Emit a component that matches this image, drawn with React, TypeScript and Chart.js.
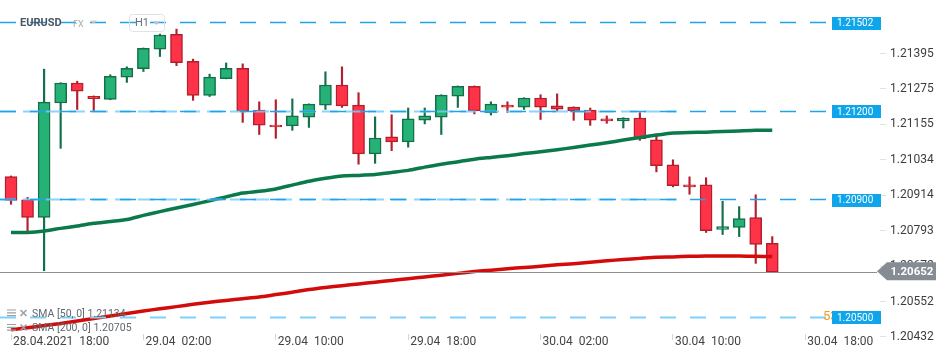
import React, { useEffect, useRef } from 'react';
import { Chart, registerables } from 'chart.js';

Chart.register(...registerables);
Chart.defaults.font.family = "Roboto, 'DejaVu Sans', sans-serif";

// ---------- data ----------
const symbolName = 'EURUSD';
const marketLabel = 'FX';
const intervalLabel = 'H1';

const opens = [1.20977, 1.20898, 1.20838, 1.21227, 1.21295, 1.21250, 1.21239, 1.21315, 1.21344, 1.21410,
  1.21460, 1.21369, 1.21253, 1.21310, 1.21345, 1.21203, 1.21152, 1.21149, 1.21179, 1.21220,
  1.21288, 1.21220, 1.21054, 1.21112, 1.21095, 1.21169, 1.21179, 1.21250, 1.21284, 1.21193,
  1.21220, 1.21213, 1.21244, 1.21217, 1.21213, 1.21203, 1.21173, 1.21166, 1.21176, 1.21102,
  1.21017, 1.20949, 1.20949, 1.20797, 1.20804, 1.20838, 1.20750];
const highs = [1.20979, 1.20906, 1.21342, 1.21296, 1.21301, 1.21251, 1.21323, 1.21350, 1.21414, 1.21461,
  1.21478, 1.21376, 1.21325, 1.21363, 1.21360, 1.21231, 1.21238, 1.21241, 1.21224, 1.21333,
  1.21350, 1.21262, 1.21180, 1.21187, 1.21210, 1.21210, 1.21255, 1.21285, 1.21285, 1.21231,
  1.21231, 1.21245, 1.21255, 1.21258, 1.21214, 1.21210, 1.21183, 1.21177, 1.21194, 1.21122,
  1.21034, 1.20976, 1.20973, 1.20893, 1.20875, 1.20915, 1.20773];
const lows = [1.20883, 1.20788, 1.20657, 1.21073, 1.21205, 1.21198, 1.21238, 1.21297, 1.21334, 1.21385,
  1.21354, 1.21236, 1.21249, 1.21309, 1.21161, 1.21120, 1.21107, 1.21134, 1.21144, 1.21205,
  1.21212, 1.21019, 1.21022, 1.21065, 1.21077, 1.21156, 1.21120, 1.21212, 1.21190, 1.21186,
  1.21195, 1.21205, 1.21171, 1.21198, 1.21168, 1.21151, 1.21158, 1.21142, 1.21100, 1.20993,
  1.20942, 1.20917, 1.20787, 1.20780, 1.20773, 1.20682, 1.20651];
const closes = [1.20896, 1.20838, 1.21230, 1.21295, 1.21267, 1.21242, 1.21318, 1.21345, 1.21413, 1.21458,
  1.21364, 1.21253, 1.21315, 1.21345, 1.21199, 1.21152, 1.21146, 1.21183, 1.21223, 1.21288,
  1.21217, 1.21054, 1.21108, 1.21095, 1.21173, 1.21183, 1.21254, 1.21284, 1.21200, 1.21223,
  1.21213, 1.21244, 1.21213, 1.21206, 1.21200, 1.21169, 1.21166, 1.21176, 1.21105, 1.21014,
  1.20946, 1.20942, 1.20793, 1.20807, 1.20834, 1.20746, 1.20652];

const sma50 = [1.20787, 1.20787, 1.20792, 1.20801, 1.20809, 1.20818, 1.20824, 1.20831, 1.20845, 1.20858,
  1.20870, 1.20882, 1.20895, 1.20908, 1.20921, 1.20927, 1.20935, 1.20948, 1.20961, 1.20971,
  1.20979, 1.20981, 1.20984, 1.20991, 1.20998, 1.21009, 1.21019, 1.21027, 1.21036, 1.21042,
  1.21048, 1.21055, 1.21061, 1.21068, 1.21076, 1.21084, 1.21092, 1.21101, 1.21110, 1.21118,
  1.21125, 1.21127, 1.21128, 1.21130, 1.21132, 1.21134, 1.21134];
const sma200 = [1.20456, 1.20463, 1.20471, 1.20478, 1.20486, 1.20495, 1.20503, 1.20512, 1.20520, 1.20528,
  1.20535, 1.20543, 1.20550, 1.20556, 1.20562, 1.20568, 1.20576, 1.20584, 1.20593, 1.20600,
  1.20606, 1.20612, 1.20618, 1.20624, 1.20630, 1.20636, 1.20642, 1.20648, 1.20654, 1.20659,
  1.20664, 1.20668, 1.20672, 1.20677, 1.20681, 1.20686, 1.20691, 1.20695, 1.20699, 1.20703,
  1.20704, 1.20706, 1.20707, 1.20707, 1.20707, 1.20706, 1.20705];

const levelValues = [1.21502, 1.21200, 1.20900, 1.20500];
const lastPrice = 1.20652;
const yTickValues = [1.21395, 1.21275, 1.21155, 1.21034, 1.20914, 1.20793, 1.20672, 1.20552, 1.20432];
const xTickIndices = [0, 8, 16, 24, 32, 40, 48];
const xTickLabels = ['28.04.2021  18:00', '29.04  02:00', '29.04  10:00', '29.04  18:00', '30.04  02:00', '30.04  10:00', '30.04  18:00'];
const legendLabels = ['SMA [50, 0] 1.21134', 'SMA [200, 0] 1.20705'];
const orangeTag = '53';

// ---------- styles ----------
const UP_FILL = '#26b276';
const UP_LINE = '#13704a';
const DOWN_FILL = '#ff3347';
const DOWN_LINE = '#b41f2d';

const overlayPlugin = {
  id: 'overlay',
  afterDraw(chart: any) {
    const ctx = chart.ctx as CanvasRenderingContext2D;
    const ys = chart.scales.y;
    const boxLeft = 832;
    const boxW = 49;
    const boxH = 13;
    ctx.save();

    const dashLine = (py: number, x0: number, x1: number, color: string, w: number, dash: number[], off: number) => {
      ctx.beginPath();
      ctx.setLineDash(dash);
      ctx.lineDashOffset = off;
      ctx.strokeStyle = color;
      ctx.lineWidth = w;
      ctx.moveTo(x0, py);
      ctx.lineTo(x1, py);
      ctx.stroke();
    };

    // level lines
    levelValues.forEach((lv, i) => {
      const py = Math.round(ys.getPixelForValue(lv)) + 0.5;
      if (i === levelValues.length - 1) {
        dashLine(py, 0, boxLeft, '#80d0f8', 2, [16, 14], 0);
      } else {
        if (i > 0) dashLine(py, 0, 677, 'rgba(120,205,248,0.85)', 2, [16, 7], 0);
        dashLine(py, 0, boxLeft, '#1fa4ea', 1.3, [16, 14], 0);
      }
    });
    ctx.setLineDash([]);

    // current price line
    const pp = Math.round(ys.getPixelForValue(lastPrice)) + 0.5;
    ctx.strokeStyle = '#8a9197';
    ctx.lineWidth = 1;
    ctx.beginPath();
    ctx.moveTo(0, pp);
    ctx.lineTo(877, pp);
    ctx.stroke();

    // orange tag partially hidden
    const lastLvlY = ys.getPixelForValue(levelValues[levelValues.length - 1]);
    ctx.fillStyle = '#f39a1f';
    ctx.font = '13px Roboto';
    ctx.textBaseline = 'middle';
    ctx.textAlign = 'left';
    ctx.fillText(orangeTag, 823, lastLvlY);

    // level boxes
    levelValues.forEach((lv) => {
      const py = ys.getPixelForValue(lv);
      ctx.fillStyle = '#0fa5ea';
      ctx.fillRect(boxLeft, Math.round(py - boxH / 2) + 1, boxW, boxH);
      ctx.fillStyle = '#ffffff';
      ctx.font = '10px Roboto';
      ctx.textBaseline = 'middle';
      ctx.fillText(lv.toFixed(5), boxLeft + 5, Math.round(py) + 1.5);
    });

    // price tag
    const pyc = ys.getPixelForValue(lastPrice) - 1;
    ctx.fillStyle = '#858c93';
    ctx.beginPath();
    ctx.moveTo(877, pyc);
    ctx.lineTo(887, pyc - 9);
    ctx.lineTo(936, pyc - 9);
    ctx.lineTo(936, pyc + 9);
    ctx.lineTo(887, pyc + 9);
    ctx.closePath();
    ctx.fill();
    ctx.fillStyle = '#ffffff';
    ctx.font = 'bold 11.5px Roboto';
    ctx.fillText(lastPrice.toFixed(5), 890.5, pyc + 0.5);

    // header
    ctx.fillStyle = '#4b5661';
    ctx.font = 'bold 11px Roboto';
    ctx.fillText(symbolName, 20, 23.5);
    ctx.fillStyle = '#a3abb3';
    ctx.font = '9px Roboto';
    ctx.fillText(marketLabel, 73, 24.5);
    ctx.fillStyle = '#c5cbd1';
    ctx.beginPath();
    ctx.moveTo(90.5, 20.5);
    ctx.lineTo(97, 20.5);
    ctx.lineTo(93.75, 24);
    ctx.closePath();
    ctx.fill();
    ctx.strokeStyle = '#dfe3e7';
    ctx.lineWidth = 1;
    ctx.beginPath();
    (ctx as any).roundRect(129.5, 14.5, 35, 17, 3);
    ctx.stroke();
    ctx.fillStyle = '#66707a';
    ctx.font = '11px Roboto';
    ctx.fillText(intervalLabel, 135, 23.5);
    ctx.fillStyle = '#b9c0c6';
    ctx.beginPath();
    ctx.moveTo(153, 21.5);
    ctx.lineTo(160, 21.5);
    ctx.lineTo(156.5, 25);
    ctx.closePath();
    ctx.fill();

    // indicator legend
    legendLabels.forEach((t, i) => {
      const cy = 314 + i * 14.5;
      ctx.strokeStyle = '#9aa0a6';
      ctx.lineWidth = 1.2;
      ctx.beginPath();
      for (let k = 0; k < 3; k++) {
        ctx.moveTo(7, cy - 4 + k * 2.8);
        ctx.lineTo(16, cy - 4 + k * 2.8);
      }
      ctx.stroke();
      ctx.lineWidth = 1.6;
      ctx.beginPath();
      ctx.moveTo(20.5, cy - 4);
      ctx.lineTo(26.5, cy + 2);
      ctx.moveTo(26.5, cy - 4);
      ctx.lineTo(20.5, cy + 2);
      ctx.stroke();
      ctx.fillStyle = '#62686e';
      ctx.font = '10.5px Roboto';
      ctx.textBaseline = 'middle';
      ctx.fillText(t, 32, cy);
    });

    ctx.restore();
  },
};

export default function App() {
  const ref = useRef<HTMLCanvasElement | null>(null);

  useEffect(() => {
    const canvas = ref.current;
    if (!canvas) return;
    const up = opens.map((o, i) => closes[i] >= o);
    const chart = new Chart(canvas, {
      type: 'bar',
      data: {
        datasets: [
          {
            type: 'line',
            label: 'SMA 50',
            data: sma50.map((v, i) => ({ x: i, y: v })),
            borderColor: '#0b7a4b',
            borderWidth: 3.5,
            pointRadius: 0,
            tension: 0.2,
            order: 1,
          } as any,
          {
            type: 'line',
            label: 'SMA 200',
            data: sma200.map((v, i) => ({ x: i, y: v })),
            borderColor: '#d40b0b',
            borderWidth: 3.5,
            pointRadius: 0,
            tension: 0.2,
            order: 1,
          } as any,
          {
            type: 'bar',
            label: 'bodies',
            data: opens.map((o, i) => ({ x: i, y: [Math.min(o, closes[i]), Math.max(o, closes[i])] })),
            backgroundColor: up.map((u) => (u ? UP_FILL : DOWN_FILL)),
            borderColor: up.map((u) => (u ? UP_LINE : DOWN_LINE)),
            borderWidth: 1.5,
            borderSkipped: false,
            barThickness: 12,
            grouped: false,
            order: 2,
          } as any,
          {
            type: 'bar',
            label: 'wicks',
            data: highs.map((h, i) => ({ x: i, y: [lows[i], h] })),
            backgroundColor: up.map((u) => (u ? UP_LINE : DOWN_LINE)),
            borderWidth: 0,
            barThickness: 1.5,
            grouped: false,
            order: 3,
          } as any,
        ],
      },
      options: {
        responsive: false,
        animation: false,
        layout: { padding: 0 },
        plugins: { legend: { display: false }, tooltip: { enabled: false } },
        scales: {
          x: {
            type: 'linear',
            min: -0.665,
            max: 52.51,
            offset: false,
            border: { display: false },
            grid: { display: true, drawOnChartArea: false, drawTicks: true, tickLength: 6, color: '#d4d4d4', offset: false },
            afterBuildTicks: (s: any) => {
              s.ticks = xTickIndices.map((v) => ({ value: v }));
            },
            afterFit: (s: any) => {
              s.height = 27;
              s.paddingLeft = 0;
              s.paddingRight = 0;
            },
            ticks: {
              autoSkip: false,
              maxRotation: 0,
              minRotation: 0,
              align: 'start',
              padding: -5,
              labelOffset: 2,
              color: '#444444',
              font: { size: 12 },
              callback: (v: any) => {
                const k = xTickIndices.indexOf(Number(v));
                return k >= 0 ? xTickLabels[k] : '';
              },
            },
          } as any,
          y: {
            type: 'linear',
            position: 'right',
            min: 1.20442,
            max: 1.21577,
            border: { display: false },
            grid: { display: true, drawOnChartArea: false, drawTicks: true, tickLength: 6, color: '#e2e2e2' },
            afterBuildTicks: (s: any) => {
              s.ticks = yTickValues.map((v) => ({ value: v }));
            },
            afterFit: (s: any) => {
              s.width = 70;
              s.paddingTop = 0;
              s.paddingBottom = 0;
            },
            ticks: {
              autoSkip: false,
              padding: 4,
              color: '#3d3d3d',
              font: { size: 12 },
              callback: (v: any) => Number(v).toFixed(5),
            },
          } as any,
        },
      },
      plugins: [overlayPlugin],
    } as any);
    return () => chart.destroy();
  }, []);

  return (
    <div style={{ position: 'absolute', left: 0, top: 0, width: 950, height: 361, background: '#ffffff' }}>
      <canvas ref={ref} width={950} height={361} style={{ display: 'block', width: 950, height: 361 }} />
    </div>
  );
}
